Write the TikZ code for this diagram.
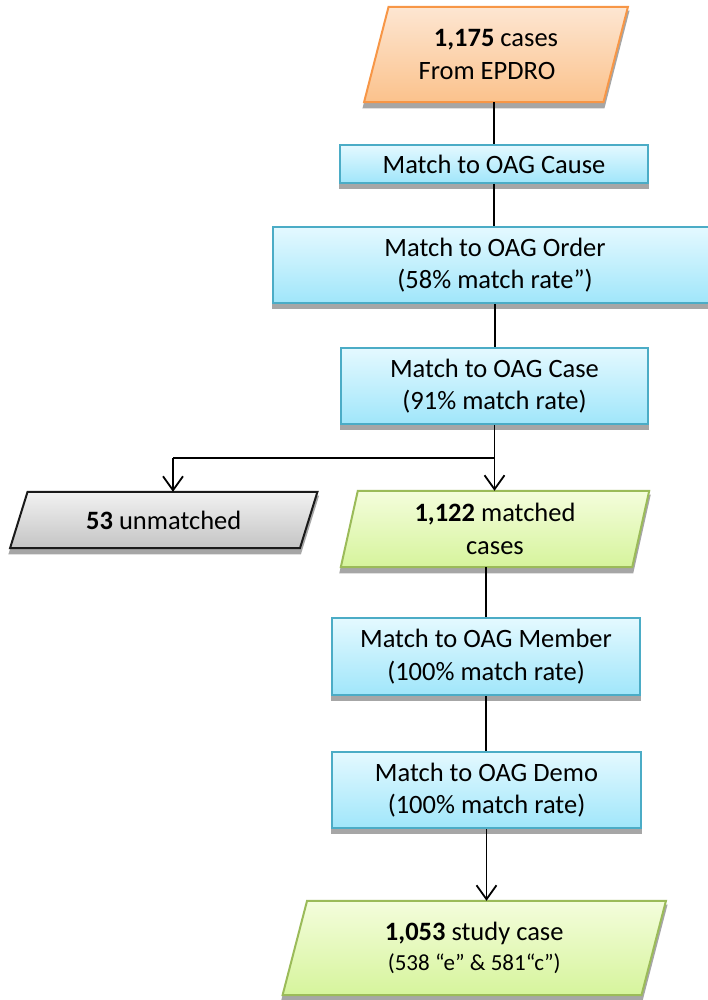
\documentclass[tikz,border=0pt]{standalone}
\usepackage{fontspec}
\setmainfont{Carlito}
\usetikzlibrary{arrows.meta,shadows,backgrounds,calc}

\definecolor{blueline}{HTML}{4BACC6}
\definecolor{bluetop}{HTML}{E4F9FF}
\definecolor{bluebot}{HTML}{A0E6FA}
\definecolor{orgline}{HTML}{F79646}
\definecolor{orgtop}{HTML}{FDE6D2}
\definecolor{orgbot}{HTML}{FBC28C}
\definecolor{grnline}{HTML}{9BBB59}
\definecolor{grntop}{HTML}{F4FDDC}
\definecolor{grnbot}{HTML}{D6F49C}
\definecolor{gryline}{HTML}{1A1A1A}
\definecolor{grytop}{HTML}{F2F2F2}
\definecolor{grybot}{HTML}{C4C4C4}
\definecolor{shadowgray}{HTML}{A6A6A6}

\tikzset{
  txt/.style={font=\fontsize{26.5}{32.5}\selectfont, align=center, inner sep=0pt},
  procbox/.style={txt, draw=blueline, line width=2pt,
    top color=bluetop, bottom color=bluebot,
    drop shadow={shadow xshift=0pt, shadow yshift=-5pt, fill=shadowgray,
      draw=shadowgray, line width=2.5pt, opacity=1}},
  link/.style={line width=1.8pt, draw=black},
  arr/.style={link, -{Straight Barb[length=14pt,width=20pt]}},
}

% parallelogram behind a named node: name, half slant (pt), border, top colour, bottom colour
\newcommand\slantshape[5]{%
  \begin{scope}[on background layer]
    \fill[shadowgray, draw=shadowgray, line width=2.5pt]
      ([xshift=#2pt, yshift=-5pt]#1.north west) -- ([xshift=#2pt, yshift=-5pt]#1.north east)
      -- ([xshift=-#2pt, yshift=-5pt]#1.south east) -- ([xshift=-#2pt, yshift=-5pt]#1.south west) -- cycle;
    \path[draw=#3, line width=2pt, top color=#4, bottom color=#5]
      ([xshift=#2pt]#1.north west) -- ([xshift=#2pt]#1.north east)
      -- ([xshift=-#2pt]#1.south east) -- ([xshift=-#2pt]#1.south west) -- cycle;
  \end{scope}}

\begin{document}
\begin{tikzpicture}[x=1pt, y=-1pt]
\useasboundingbox (0,0) rectangle (708,1000);

% source data
\node[txt, minimum width=239pt, minimum height=95pt] (src) at (496,54.5)
  {\textbf{1,175} cases\\From EPDRO\hspace*{18pt}};
\slantshape{src}{12.25}{orgline}{orgtop}{orgbot}

% matching steps
\node[procbox, minimum width=308pt, minimum height=38pt] (cause) at (494,164) {Match to OAG Cause};
\node[procbox, minimum width=444pt, minimum height=76pt] (order) at (495,265)
  {Match to OAG Order\\(58\% match rate”)};
\node[procbox, minimum width=307pt, minimum height=76pt] (case) at (494.5,386)
  {Match to OAG Case\\(91\% match rate)};

% outcome of the case match
\node[txt, minimum width=289.5pt, minimum height=56pt] (unm) at (163.75,520)
  {\textbf{53} unmatched};
\slantshape{unm}{8.75}{gryline}{grytop}{grybot}
\node[txt, minimum width=291pt, minimum height=76pt] (mat) at (495,529)
  {\textbf{1,122} matched\\cases};
\slantshape{mat}{8.5}{grnline}{grntop}{grnbot}

\node[procbox, minimum width=308pt, minimum height=77pt] (mem) at (486,656.5)
  {Match to OAG Member\\(100\% match rate)};
\node[procbox, minimum width=309pt, minimum height=76pt] (demo) at (486.5,790)
  {Match to OAG Demo\\(100\% match rate)};

\node[txt, minimum width=358.5pt, minimum height=94pt] (study) at (474.25,948)
  {\textbf{1,053} study case\\[-3pt]{\fontsize{23}{28}\selectfont (538 “e” \& 581“c”)}};
\slantshape{study}{12.25}{grnline}{grntop}{grnbot}

% connectors
\draw[link] (cause.north) -- (cause.north |- src.south);
\draw[link] (cause.south) -- (cause.south |- order.north);
\draw[link] (order.south) -- (order.south |- case.north);
\coordinate (split) at (494,458);
\coordinate (lft) at (173,458);
\draw[link] (case.south) -- (case.south |- split) -- (lft);
\draw[arr] (lft) -- (lft |- unm.north);
\draw[arr] (case.south |- split) -- (case.south |- mat.north);
\draw[link] (mem.north) -- (mem.north |- mat.south);
\draw[link] (mem.south) -- (mem.south |- demo.north);
\draw[arr] (demo.south) -- (demo.south |- study.north);
\end{tikzpicture}
\end{document}
